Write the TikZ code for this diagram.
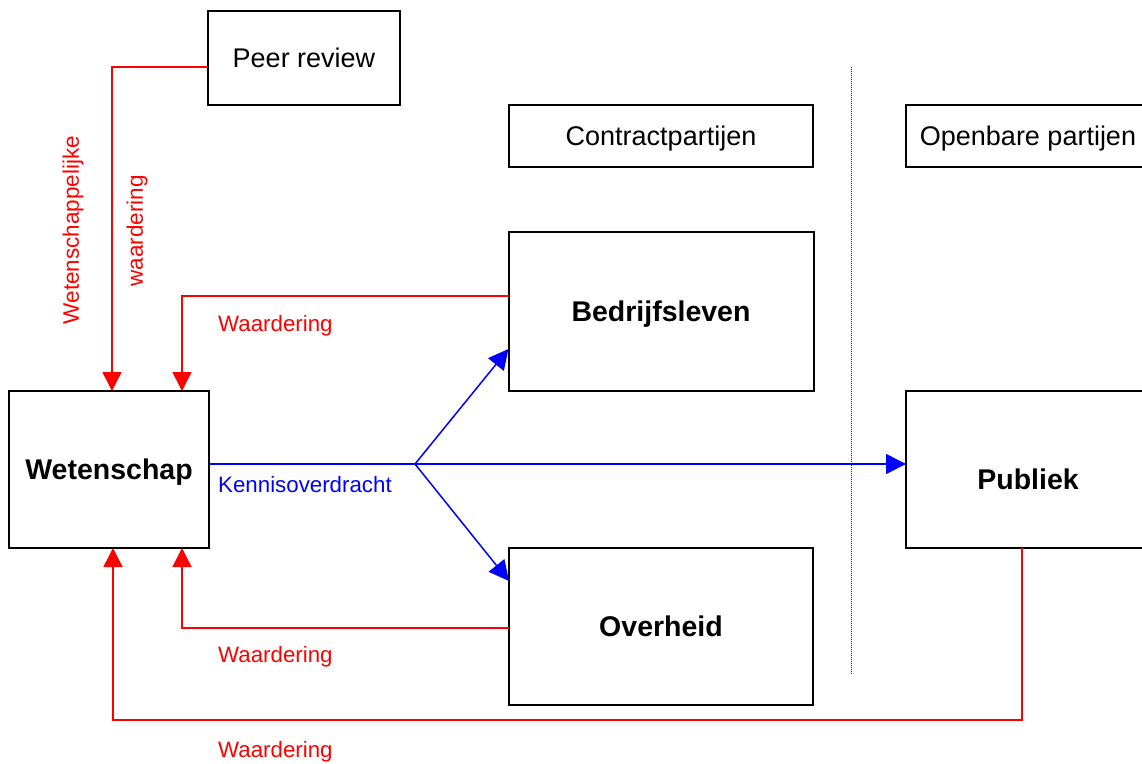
\documentclass[tikz,border=0pt]{standalone}
\usepackage{fontspec}
\setmainfont{Liberation Sans}
\usetikzlibrary{arrows.meta}
\begin{document}
\begin{tikzpicture}[x=1pt,y=-1pt,
  box/.style={draw, line width=2pt, inner sep=0pt, outer sep=0pt, font=\fontsize{27}{31}\selectfont, text height=19.3pt, text depth=0pt},
  bbox/.style={box, font=\fontsize{28.5}{33}\selectfont\bfseries, text height=20.4pt},
  rl/.style={red, line width=1.5pt},
  rarr/.style={rl, -{Triangle[length=19pt,width=19pt]}},
  barr/.style={blue, line width=1.5pt, -{Triangle[length=20pt,width=20pt]}},
  lab/.style={red, font=\fontsize{22.3}{26}\selectfont, anchor=base west, inner sep=0pt},
  vlab/.style={red, font=\fontsize{22.5}{26}\selectfont, rotate=90, inner sep=0pt}
]
\clip (0,0) rectangle (1142,763);
\fill[white] (0,0) rectangle (1142,763);

% boxes
\node[box, minimum width=192pt, minimum height=94pt] (peer) at (304,58) {Peer review};
\node[box, minimum width=304pt, minimum height=62pt] (contract) at (661,136) {Contractpartijen};
\node[box, minimum width=244pt, minimum height=62pt] (open) at (1028,136) {Openbare partijen};
\node[bbox, minimum width=305pt, minimum height=159pt] (bed) at (661,311.5) {Bedrijfsleven};
\node[bbox, minimum width=200pt, minimum height=157pt] (wet) at (109,469.5) {Wetenschap};
\node[bbox, minimum width=304pt, minimum height=157pt] (ov) at (661,626.5) {Overheid};
\node[bbox, minimum width=244pt, minimum height=157pt, text height=40.4pt] (pub) at (1028,469.5) {Publiek};

% dotted separator
\coordinate (dtop) at (851,67);
\coordinate (dbot) at (851,675);
\draw[black!85, line width=1pt, dash pattern=on 1pt off 1pt] (dtop) -- (dbot);

% red feedback connectors
\draw[rarr] (peer.west |- 0,67) -| (wet.north -| 112,0);
\draw[rarr] (bed.west |- 0,296) -| (wet.north -| 182,0);
\draw[rarr] (ov.west |- 0,628) -| (wet.south -| 182,0);
\coordinate (bot) at (1022,720);
\draw[rarr] (pub.south -| bot) -- (bot) -| (wet.south -| 113,0);

% blue knowledge transfer
\coordinate (br) at (415,464);
\draw[barr] (wet.east |- br) -- (pub.west |- br);
\draw[barr] (br) -- (bed.west |- 0,349);
\draw[barr] (br) -- (ov.west |- 0,581);

% labels
\node[vlab] (lw1) at (73,230) {Wetenschappelijke};
\node[vlab] (lw2) at (137,231) {waardering};
\node[lab] (l1) at (218,331) {Waardering};
\node[lab] (l2) at (218,662) {Waardering};
\node[lab] (l3) at (218,757) {Waardering};
\node[lab, blue] (lk) at (218,492) {Kennisoverdracht};
\end{tikzpicture}
\end{document}
